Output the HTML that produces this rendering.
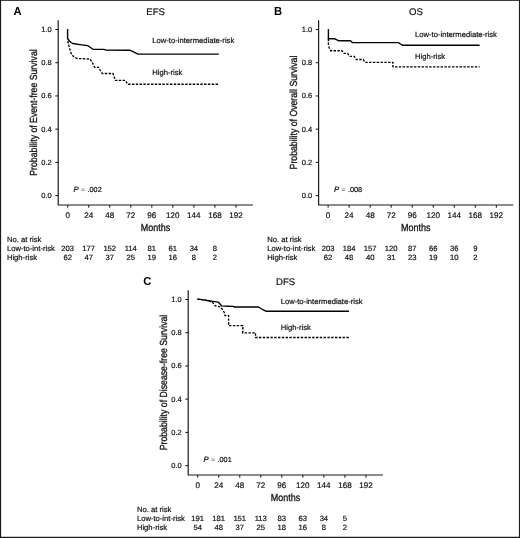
<!DOCTYPE html>
<html><head><meta charset="utf-8"><title>Figure</title>
<style>
html,body{margin:0;padding:0;background:#fff;}
body{width:520px;height:538px;overflow:hidden;}
svg{display:block;}
text{font-family:"Liberation Sans", Arial, Helvetica, sans-serif;fill:#111;stroke:#111;stroke-width:0.2px;text-rendering:geometricPrecision;}
.pl{font-size:11.5px;font-weight:bold;fill:#000;stroke:none;}
.ti{font-size:9.6px;}
.tl{font-size:8.1px;}
.ty{font-size:7.5px;}
.lb{font-size:7.65px;}
.pv{font-size:7.3px;}
.eq{font-size:6.4px;fill:#444;stroke:none;}
.at{font-size:10.3px;stroke-width:0.3px;}
.ax{fill:none;stroke:#1a1a1a;stroke-width:1.2;}
.tk{fill:none;stroke:#111;stroke-width:1.0;}
.cs{fill:none;stroke:#000;stroke-width:1.4;stroke-linejoin:round;}
.cd{fill:none;stroke:#000;stroke-width:1.35;stroke-dasharray:2.4 1.4;}
</style></head>
<body>
<svg width="520" height="538" viewBox="0 0 520 538">
<rect x="0" y="0" width="520" height="538" fill="#fff"/>
<g transform="translate(0,0)">
<text class="pl" transform="translate(17.5,15) scale(0.98,1)" text-anchor="middle">A</text>
<text x="155.6" y="14.9" class="ti" text-anchor="middle">EFS</text>
<path class="ax" d="M58.2 20.2V205H252.9"/>
<path class="tk" d="M55.3 195.60H58.2M55.3 162.38H58.2M55.3 129.16H58.2M55.3 95.94H58.2M55.3 62.72H58.2M55.3 29.50H58.2M67.70 205V207.7M88.73 205V207.7M109.76 205V207.7M130.79 205V207.7M151.82 205V207.7M172.85 205V207.7M193.88 205V207.7M214.91 205V207.7M235.94 205V207.7"/>
<text x="51.8" y="198.10" class="tl ty" text-anchor="end">0.0</text>
<text x="51.8" y="164.88" class="tl ty" text-anchor="end">0.2</text>
<text x="51.8" y="131.66" class="tl ty" text-anchor="end">0.4</text>
<text x="51.8" y="98.44" class="tl ty" text-anchor="end">0.6</text>
<text x="51.8" y="65.22" class="tl ty" text-anchor="end">0.8</text>
<text x="51.8" y="32.00" class="tl ty" text-anchor="end">1.0</text>
<text x="67.70" y="217.8" class="tl" text-anchor="middle">0</text>
<text x="88.73" y="217.8" class="tl" text-anchor="middle">24</text>
<text x="109.76" y="217.8" class="tl" text-anchor="middle">48</text>
<text x="130.79" y="217.8" class="tl" text-anchor="middle">72</text>
<text x="151.82" y="217.8" class="tl" text-anchor="middle">96</text>
<text x="172.85" y="217.8" class="tl" text-anchor="middle">120</text>
<text x="193.88" y="217.8" class="tl" text-anchor="middle">144</text>
<text x="214.91" y="217.8" class="tl" text-anchor="middle">168</text>
<text x="235.94" y="217.8" class="tl" text-anchor="middle">192</text>
<text class="at" transform="translate(155.4,230.6) scale(0.872,1)" text-anchor="middle">Months</text>
<text class="at" transform="translate(36.8,112.5) rotate(-90) scale(0.846,1)" text-anchor="middle">Probability of Event-free Survival</text>
<text x="73.6" y="192" class="pv" style="font-size:7.8px;font-style:italic">P</text><text x="83" y="191.8" class="pv eq" text-anchor="middle">=</text><text x="87.5" y="192" class="pv">.002</text>
<path class="cs" d="M67.6 29V38.5L69 40.5L71 42.5L72.7 43.5L80 44.6L87.7 45.6L90.5 47.5L92.9 49.2L104 49.4L106 50.1L129.6 50.2L133 51.7L138 54.1H218.8"/>
<path class="cd" d="M67.7 41L69.8 49.2L71.5 54.4L73.8 56.7L77.3 58.5L90 59L92 62L94.6 67.3H98.5L100.3 70.5L102.3 73.5H113L115.4 80.4H125.4L127.7 84.2H218.8"/>
<text x="152.3" y="43.3" class="lb">Low-to-intermediate-risk</text>
<text x="152.3" y="75.4" class="lb">High-risk</text>
<text x="6.9" y="241.9" class="lb">No. at risk</text>
<text x="6.9" y="251.0" class="lb">Low-to-int-risk</text>
<text x="6.9" y="259.9" class="lb">High-risk</text>
<text x="67.70" y="251.0" class="lb" text-anchor="middle">203</text>
<text x="88.73" y="251.0" class="lb" text-anchor="middle">177</text>
<text x="109.76" y="251.0" class="lb" text-anchor="middle">152</text>
<text x="130.79" y="251.0" class="lb" text-anchor="middle">114</text>
<text x="151.82" y="251.0" class="lb" text-anchor="middle">81</text>
<text x="172.85" y="251.0" class="lb" text-anchor="middle">61</text>
<text x="193.88" y="251.0" class="lb" text-anchor="middle">34</text>
<text x="214.91" y="251.0" class="lb" text-anchor="middle">8</text>
<text x="67.70" y="259.9" class="lb" text-anchor="middle">62</text>
<text x="88.73" y="259.9" class="lb" text-anchor="middle">47</text>
<text x="109.76" y="259.9" class="lb" text-anchor="middle">37</text>
<text x="130.79" y="259.9" class="lb" text-anchor="middle">25</text>
<text x="151.82" y="259.9" class="lb" text-anchor="middle">19</text>
<text x="172.85" y="259.9" class="lb" text-anchor="middle">16</text>
<text x="193.88" y="259.9" class="lb" text-anchor="middle">8</text>
<text x="214.91" y="259.9" class="lb" text-anchor="middle">2</text>
</g>
<g transform="translate(260.4,0)">
<text class="pl" transform="translate(17.7,15) scale(0.98,1)" text-anchor="middle">B</text>
<text x="155.6" y="14.9" class="ti" text-anchor="middle">OS</text>
<path class="ax" d="M58.2 20.2V205H252.9"/>
<path class="tk" d="M55.3 195.60H58.2M55.3 162.38H58.2M55.3 129.16H58.2M55.3 95.94H58.2M55.3 62.72H58.2M55.3 29.50H58.2M67.70 205V207.7M88.73 205V207.7M109.76 205V207.7M130.79 205V207.7M151.82 205V207.7M172.85 205V207.7M193.88 205V207.7M214.91 205V207.7M235.94 205V207.7"/>
<text x="51.8" y="198.10" class="tl ty" text-anchor="end">0.0</text>
<text x="51.8" y="164.88" class="tl ty" text-anchor="end">0.2</text>
<text x="51.8" y="131.66" class="tl ty" text-anchor="end">0.4</text>
<text x="51.8" y="98.44" class="tl ty" text-anchor="end">0.6</text>
<text x="51.8" y="65.22" class="tl ty" text-anchor="end">0.8</text>
<text x="51.8" y="32.00" class="tl ty" text-anchor="end">1.0</text>
<text x="67.70" y="217.8" class="tl" text-anchor="middle">0</text>
<text x="88.73" y="217.8" class="tl" text-anchor="middle">24</text>
<text x="109.76" y="217.8" class="tl" text-anchor="middle">48</text>
<text x="130.79" y="217.8" class="tl" text-anchor="middle">72</text>
<text x="151.82" y="217.8" class="tl" text-anchor="middle">96</text>
<text x="172.85" y="217.8" class="tl" text-anchor="middle">120</text>
<text x="193.88" y="217.8" class="tl" text-anchor="middle">144</text>
<text x="214.91" y="217.8" class="tl" text-anchor="middle">168</text>
<text x="235.94" y="217.8" class="tl" text-anchor="middle">192</text>
<text class="at" transform="translate(155.4,230.6) scale(0.872,1)" text-anchor="middle">Months</text>
<text class="at" transform="translate(36.8,112.5) rotate(-90) scale(0.846,1)" text-anchor="middle">Probability of Overall Survival</text>
<text x="73.6" y="192" class="pv" style="font-size:7.8px;font-style:italic">P</text><text x="83" y="191.8" class="pv eq" text-anchor="middle">=</text><text x="87.5" y="192" class="pv">.008</text>
<path class="cs" d="M68 29V39.4M68 38.8H74.6L76.5 39.8L78.4 40.8H90L92 42.6H138L140 44L142 45.2H219.2"/>
<path class="cd" d="M68 38.8V44L68.8 48L70.3 50.7H81.5L83.5 53.4H87.3L89.2 56.3H93.8L95.8 59.5H102.8L104.6 62.3H132.5V66.8H219.2"/>
<text x="154.6" y="36.6" class="lb">Low-to-intermediate-risk</text>
<text x="154.6" y="58.7" class="lb">High-risk</text>
<text x="6.9" y="241.9" class="lb">No. at risk</text>
<text x="6.9" y="251.0" class="lb">Low-to-int-risk</text>
<text x="6.9" y="259.9" class="lb">High-risk</text>
<text x="67.70" y="251.0" class="lb" text-anchor="middle">203</text>
<text x="88.73" y="251.0" class="lb" text-anchor="middle">184</text>
<text x="109.76" y="251.0" class="lb" text-anchor="middle">157</text>
<text x="130.79" y="251.0" class="lb" text-anchor="middle">120</text>
<text x="151.82" y="251.0" class="lb" text-anchor="middle">87</text>
<text x="172.85" y="251.0" class="lb" text-anchor="middle">66</text>
<text x="193.88" y="251.0" class="lb" text-anchor="middle">36</text>
<text x="214.91" y="251.0" class="lb" text-anchor="middle">9</text>
<text x="67.70" y="259.9" class="lb" text-anchor="middle">62</text>
<text x="88.73" y="259.9" class="lb" text-anchor="middle">48</text>
<text x="109.76" y="259.9" class="lb" text-anchor="middle">40</text>
<text x="130.79" y="259.9" class="lb" text-anchor="middle">31</text>
<text x="151.82" y="259.9" class="lb" text-anchor="middle">23</text>
<text x="172.85" y="259.9" class="lb" text-anchor="middle">19</text>
<text x="193.88" y="259.9" class="lb" text-anchor="middle">10</text>
<text x="214.91" y="259.9" class="lb" text-anchor="middle">2</text>
</g>
<g transform="translate(130.0,270)">
<text class="pl" transform="translate(17.3,15) scale(0.98,1)" text-anchor="middle">C</text>
<text x="155.6" y="14.9" class="ti" text-anchor="middle">DFS</text>
<path class="ax" d="M58.2 20.2V205H252.9"/>
<path class="tk" d="M55.3 195.60H58.2M55.3 162.38H58.2M55.3 129.16H58.2M55.3 95.94H58.2M55.3 62.72H58.2M55.3 29.50H58.2M67.70 205V207.7M88.73 205V207.7M109.76 205V207.7M130.79 205V207.7M151.82 205V207.7M172.85 205V207.7M193.88 205V207.7M214.91 205V207.7M235.94 205V207.7"/>
<text x="51.8" y="198.10" class="tl ty" text-anchor="end">0.0</text>
<text x="51.8" y="164.88" class="tl ty" text-anchor="end">0.2</text>
<text x="51.8" y="131.66" class="tl ty" text-anchor="end">0.4</text>
<text x="51.8" y="98.44" class="tl ty" text-anchor="end">0.6</text>
<text x="51.8" y="65.22" class="tl ty" text-anchor="end">0.8</text>
<text x="51.8" y="32.00" class="tl ty" text-anchor="end">1.0</text>
<text x="67.70" y="217.8" class="tl" text-anchor="middle">0</text>
<text x="88.73" y="217.8" class="tl" text-anchor="middle">24</text>
<text x="109.76" y="217.8" class="tl" text-anchor="middle">48</text>
<text x="130.79" y="217.8" class="tl" text-anchor="middle">72</text>
<text x="151.82" y="217.8" class="tl" text-anchor="middle">96</text>
<text x="172.85" y="217.8" class="tl" text-anchor="middle">120</text>
<text x="193.88" y="217.8" class="tl" text-anchor="middle">144</text>
<text x="214.91" y="217.8" class="tl" text-anchor="middle">168</text>
<text x="235.94" y="217.8" class="tl" text-anchor="middle">192</text>
<text class="at" transform="translate(155.4,230.6) scale(0.872,1)" text-anchor="middle">Months</text>
<text class="at" transform="translate(36.8,112.5) rotate(-90) scale(0.846,1)" text-anchor="middle">Probability of Disease-free Survival</text>
<text x="73.6" y="192" class="pv" style="font-size:7.8px;font-style:italic">P</text><text x="83" y="191.8" class="pv eq" text-anchor="middle">=</text><text x="87.5" y="192" class="pv">.001</text>
<path class="cs" d="M67.4 29.1L72 29.6L77 30.5L83 31.4L88.2 32.1L90 34L91.6 35.9L98 36.2L103 36.4L104.6 37H128.5L131 38.5L133.5 40L136 41.2H219"/>
<path class="cd" d="M67.4 29.1L72 29.6L77 30.5L82.3 32L85.2 35.8L90.4 36.9L92.7 39.8L94.4 42.7L95 45.6H98.6V55.6H112.8V62.8H125.5V67.5H219"/>
<text x="150.7" y="33.7" class="lb">Low-to-intermediate-risk</text>
<text x="150.7" y="59.7" class="lb">High-risk</text>
<text x="6.9" y="241.9" class="lb">No. at risk</text>
<text x="6.9" y="251.0" class="lb">Low-to-int-risk</text>
<text x="6.9" y="259.9" class="lb">High-risk</text>
<text x="67.70" y="251.0" class="lb" text-anchor="middle">191</text>
<text x="88.73" y="251.0" class="lb" text-anchor="middle">181</text>
<text x="109.76" y="251.0" class="lb" text-anchor="middle">151</text>
<text x="130.79" y="251.0" class="lb" text-anchor="middle">113</text>
<text x="151.82" y="251.0" class="lb" text-anchor="middle">83</text>
<text x="172.85" y="251.0" class="lb" text-anchor="middle">63</text>
<text x="193.88" y="251.0" class="lb" text-anchor="middle">34</text>
<text x="214.91" y="251.0" class="lb" text-anchor="middle">5</text>
<text x="67.70" y="259.9" class="lb" text-anchor="middle">54</text>
<text x="88.73" y="259.9" class="lb" text-anchor="middle">48</text>
<text x="109.76" y="259.9" class="lb" text-anchor="middle">37</text>
<text x="130.79" y="259.9" class="lb" text-anchor="middle">25</text>
<text x="151.82" y="259.9" class="lb" text-anchor="middle">18</text>
<text x="172.85" y="259.9" class="lb" text-anchor="middle">16</text>
<text x="193.88" y="259.9" class="lb" text-anchor="middle">8</text>
<text x="214.91" y="259.9" class="lb" text-anchor="middle">2</text>
</g>
<path d="M0.55 0V538M519.5 0V538" stroke="#1c1c1c" stroke-width="1.15" fill="none"/><path d="M0 0.45H520" stroke="#1c1c1c" stroke-width="0.9" fill="none"/>
<path d="M0 537.35H520" stroke="#1c1c1c" stroke-width="1.3" fill="none"/>
</svg>
</body></html>
